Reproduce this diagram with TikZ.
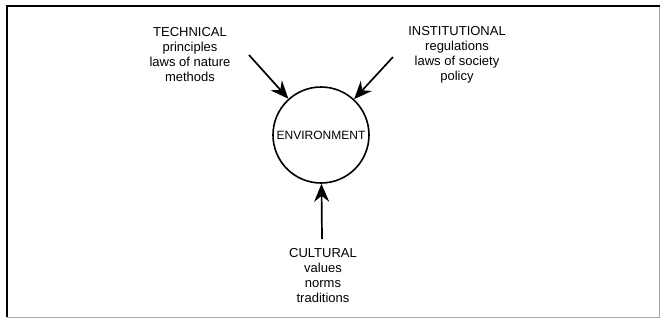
\documentclass[tikz,border=0pt]{standalone}
\usepackage{fontspec}
\setmainfont{Liberation Sans}
\usetikzlibrary{arrows.meta,positioning}
\tikzset{env/.style = {circle,draw=black,line width=1.6pt,minimum size=96pt,inner sep=0pt,font=\fontsize{12}{14}\selectfont},
        factor/.style = {align=center,inner sep=0pt,font=\fontsize{13}{15}\selectfont},
    infl/.style =   {-{Stealth[length=18pt,width=15pt,inset=6pt]}, line width=1.7pt}
}

\begin{document}
\begin{tikzpicture}[x=1pt,y=-1pt]
    \useasboundingbox (0,0) rectangle (660,322);
    % frame
    \draw[black!35,line width=0.8pt] (7,317) -- (659,317) -- (659,6);
    \draw[black,line width=1.2pt] (7,317) -- (7,6) -- (660,6);
    \node[env] (env) at (321,135) {ENVIRONMENT};
    \node[factor] (tech) at (190,55) {TECHNICAL\\principles\\laws of nature\\methods};
    \node[factor] (inst) at (457,55) {INSTITUTIONAL\\regulations\\laws of society\\policy};
    \node[factor] (cult) at (323,276) {CULTURAL\\values\\norms\\traditions};
    \coordinate (t1) at (249,55);
    \coordinate (t2) at (393,57);
    \coordinate (t3) at (322,239);
    \draw[infl] (t1) -- (env);
    \draw[infl] (t2) -- (env);
    \draw[infl] (t3) -- (env);
\end{tikzpicture}
\end{document}
